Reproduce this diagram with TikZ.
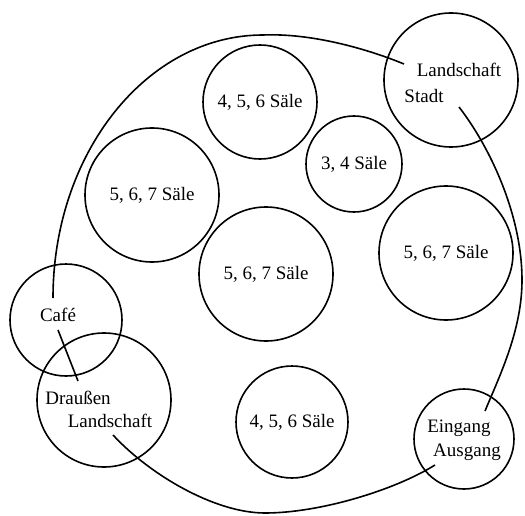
\documentclass[tikz,border=0pt]{standalone}
\usepackage{fontspec}
\setmainfont{Liberation Serif}
\begin{document}
\begin{tikzpicture}[x=1pt,y=-1pt,
  room/.style={draw, circle, line width=1.6pt, inner sep=0pt, font=\fontsize{19}{22}\selectfont},
  lbl/.style={inner sep=0pt, anchor=base, font=\fontsize{19}{22}\selectfont},
  loop/.style={draw, line width=1.6pt}]
\useasboundingbox (0,0) rectangle (525,516);
% rooms
\node[room, minimum size=114pt] (s456a) at (260,102) {4, 5, 6 S\"ale};
\node[room, minimum size=96pt]  (s34)   at (354,164) {3, 4 S\"ale};
\node[room, minimum size=134pt] (s567l) at (152,195) {5, 6, 7 S\"ale};
\node[room, minimum size=134pt] (s567c) at (266,274) {5, 6, 7 S\"ale};
\node[room, minimum size=134pt] (s567r) at (446,253) {5, 6, 7 S\"ale};
\node[room, minimum size=112pt] (s456b) at (292,422) {4, 5, 6 S\"ale};
% special circles
\node[room, minimum size=134pt] (landC) at (451,80) {};
\node[room, minimum size=112pt] (cafeC) at (66,320) {};
\node[room, minimum size=134pt] (draC)  at (104,400) {};
\node[room, minimum size=100pt] (einC)  at (464,439) {};
% labels
\node[lbl] (landS)    at (459,77)  {Landschaft};
\node[lbl] (stadtT)   at (424,103) {Stadt};
\node[lbl] (cafeT)    at (58,321)  {Caf\'e};
\node[lbl] (draussenT) at (78,404) {Drau\ss en};
\node[lbl] (landD)    at (110,427) {Landschaft};
\node[lbl] (eingangT) at (459,432) {Eingang};
\node[lbl] (ausgangT) at (467,456) {Ausgang};
% connectors
\draw[loop] ([shift={(-5,-23)}]cafeT.base)
  .. controls (53,153) and (147,35) .. (263,35)
  .. controls (310,33) and (365,48) .. ([shift={(-55,-13)}]landS.base);
\draw[loop] ([shift={(35,4)}]stadtT.base)
  .. controls (490,147) and (522,215) .. (522,280)
  .. controls (522,330) and (500,375) .. ([shift={(26,-21)}]eingangT.base);
\draw[loop] ([shift={(-32,9)}]ausgangT.base)
  .. controls (395,490) and (320,513) .. (265,513)
  .. controls (215,513) and (150,475) .. ([shift={(3,8)}]landD.base);
\draw[loop] ([shift={(0,9)}]cafeT.base) -- ([shift={(0,-23)}]draussenT.base);
\end{tikzpicture}
\end{document}
